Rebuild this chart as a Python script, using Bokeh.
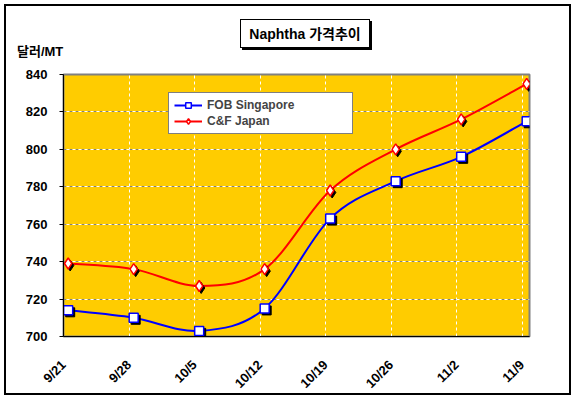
from math import pi
from bokeh.plotting import figure
from bokeh.layouts import column
from bokeh.models import Legend, LegendItem, FixedTicker, Grid, ColumnDataSource, Range1d, Div
from bokeh.embed import file_html
from bokeh.resources import INLINE

# ---- data ----
dates = ["9/21", "9/28", "10/5", "10/12", "10/19", "10/26", "11/2", "11/9"]
days = [0, 7, 14, 21, 28, 35, 42, 49]
fob_singapore = [714, 710, 703, 715, 763, 783, 796, 815]
cf_japan = [739, 736, 727, 736, 778, 800, 816, 835]
y_ticks = [700, 720, 740, 760, 780, 800, 820, 840]
title_text = "Naphtha 가격추이"
unit_text = "달러/MT"

FONT = "Liberation Sans, Noto Sans CJK KR"
FRAME_W, FRAME_H = 466, 262
TICK_SHIFT = 0.5          # date-axis gridlines sit half a day before the points
X0, X1 = -0.5, 49.3
Y0, Y1 = 700, 840
HEADER_H = 60

tick_pos = [d - TICK_SHIFT for d in days]


def smooth(xs, ys):
    n = len(xs)
    d = dict(x0=[], y0=[], x1=[], y1=[], cx0=[], cy0=[], cx1=[], cy1=[])
    for i in range(n - 1):
        a = i - 1 if i > 0 else i
        b = i + 2 if i + 2 < n else i + 1
        d["x0"].append(xs[i]); d["y0"].append(ys[i])
        d["x1"].append(xs[i + 1]); d["y1"].append(ys[i + 1])
        d["cx0"].append(xs[i] + (xs[i + 1] - xs[a]) / 6)
        d["cy0"].append(ys[i] + (ys[i + 1] - ys[a]) / 6)
        d["cx1"].append(xs[i + 1] - (xs[b] - xs[i]) / 6)
        d["cy1"].append(ys[i + 1] - (ys[b] - ys[i]) / 6)
    return ColumnDataSource(d)


p = figure(frame_width=FRAME_W, frame_height=FRAME_H,
           min_border_left=63, min_border_right=46, min_border_top=74 - HEADER_H,
           min_border_bottom=396 - HEADER_H - (74 - HEADER_H) - FRAME_H,
           x_range=Range1d(X0, X1), y_range=Range1d(Y0, Y1),
           output_backend="svg", toolbar_location=None,
           background_fill_color="#FFCC00", border_fill_color=None)

p.outline_line_color = "#808080"
p.outline_line_width = 2

# grids
p.xgrid.ticker = FixedTicker(ticks=tick_pos)
p.xgrid.grid_line_color = "white"
p.xgrid.grid_line_dash = "3 3"
p.ygrid.ticker = FixedTicker(ticks=y_ticks)
p.ygrid.grid_line_color = "#808080"
p.ygrid.grid_line_dash = "3 3"
p.add_layout(Grid(dimension=1, ticker=FixedTicker(ticks=y_ticks), grid_line_color="white",
                  grid_line_dash="3 3", grid_line_dash_offset=3))

# axes
p.xaxis.ticker = FixedTicker(ticks=tick_pos)
p.xaxis.major_label_overrides = {t: lab for t, lab in zip(tick_pos, dates)}
p.xaxis.major_label_orientation = pi / 4
p.xaxis.major_tick_line_color = None
p.xaxis.minor_tick_line_color = None
p.xaxis.major_label_standoff = 20
p.yaxis.ticker = FixedTicker(ticks=y_ticks)
p.yaxis.major_tick_out = 4
p.yaxis.major_tick_in = 0
p.yaxis.minor_tick_line_color = None
p.yaxis.major_label_standoff = 12
for ax in (p.xaxis, p.yaxis):
    ax.axis_line_color = "black"
    ax.major_label_text_font = FONT
    ax.major_label_text_font_style = "bold"
    ax.major_label_text_font_size = "13px"
    ax.major_label_text_color = "black"

# shadow offsets (2 px)
dx = 2 * (X1 - X0) / FRAME_W
dy = 2 * (Y1 - Y0) / FRAME_H

# series
rb = p.bezier(x0="x0", y0="y0", x1="x1", y1="y1", cx0="cx0", cy0="cy0", cx1="cx1", cy1="cy1",
              source=smooth(days, fob_singapore), line_color="#0000FF", line_width=2)
p.scatter([d + dx for d in days], [v - dy for v in fob_singapore], marker="square", size=9,
          fill_color="black", line_color="black")
sb = p.scatter(days, fob_singapore, marker="square", size=9, fill_color="white",
               line_color="#0000FF", line_width=1.5)

rr = p.bezier(x0="x0", y0="y0", x1="x1", y1="y1", cx0="cx0", cy0="cy0", cx1="cx1", cy1="cy1",
              source=smooth(days, cf_japan), line_color="#FF0000", line_width=2)
p.scatter([d + dx for d in days], [v - dy for v in cf_japan], marker="diamond", size=11,
          fill_color="black", line_color="black")
sr = p.scatter(days, cf_japan, marker="diamond", size=11, fill_color="white",
               line_color="#FF0000", line_width=1.5)

legend = Legend(items=[LegendItem(label="FOB Singapore", renderers=[rb, sb]),
                       LegendItem(label="C&F Japan", renderers=[rr, sr])],
                location=(105, 202), orientation="vertical",
                label_text_font=FONT, label_text_font_style="bold", label_text_font_size="12px",
                glyph_width=28, glyph_height=14, label_height=14, label_width=140,
                spacing=2, padding=5, margin=0,
                border_line_color="black", border_line_width=1,
                background_fill_color="white", background_fill_alpha=1.0)
p.add_layout(legend, "center")

header_html = (
    '<div style="position:relative;width:575px;height:%dpx;'
    'font-family:\'Liberation Sans\',\'Noto Sans CJK KR\',sans-serif;font-weight:bold;color:black;">'
    '<div style="position:absolute;left:240px;top:19px;width:130px;height:29px;'
    'border:1px solid black;background:white;box-shadow:2px 2px 0 black;'
    'text-align:center;line-height:29px;font-size:14px;">%s</div>'
    '<div style="position:absolute;left:17px;top:44px;font-size:13px;line-height:15px;">%s</div>'
    '</div>' % (HEADER_H, title_text, unit_text)
)
header = Div(text=header_html, width=575, height=HEADER_H, margin=0)

layout = column(header, p, spacing=0,
                styles={"outline": "2px solid black", "outline-offset": "-6px"})

open("out.html", "w").write(file_html(layout, INLINE))
